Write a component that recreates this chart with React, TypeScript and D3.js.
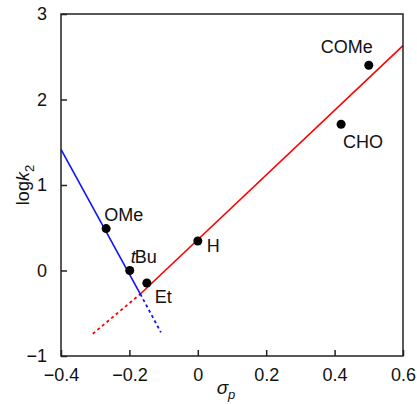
import React, { useEffect, useRef } from "react";
import * as d3 from "d3";

// substituent points (sigma_p, log k2)
const labels = ["OMe", "tBu", "Et", "H", "CHO", "COMe"];
const sigma = [-0.268, -0.199, -0.149, 0.0, 0.419, 0.5];
const logK = [0.49, 0.0, -0.146, 0.345, 1.71, 2.4];

// fitted lines
const redSolid: [number, number][] = [[-0.168, -0.275], [0.6, 2.63]];
const redDashed: [number, number][] = [[-0.307, -0.74], [-0.168, -0.275]];
const blueSolid: [number, number][] = [[-0.4, 1.418], [-0.168, -0.275]];
const blueDashed: [number, number][] = [[-0.168, -0.275], [-0.108, -0.723]];

const xTicks = [-0.4, -0.2, 0, 0.2, 0.4, 0.6];
const yTicks = [-1, 0, 1, 2, 3];

// label offsets (px) from each point
const labelDx = [-2, 1, 8, 9, 2, -48];
const labelDy = [-8, -8, 20, 11, 24, -12];

const App = () => {
  const ref = useRef<SVGSVGElement>(null);

  useEffect(() => {
    const w = 417;
    const h = 404;
    const left = 61;
    const right = 403;
    const top = 14;
    const bottom = 356;
    const font = "'Liberation Sans', Arial, Helvetica, sans-serif";

    const svg = d3.select(ref.current);
    svg.selectAll("*").remove();
    svg.attr("width", w).attr("height", h);

    const xScale = d3.scaleLinear().domain([-0.4, 0.6]).range([left, right]);
    const yScale = d3.scaleLinear().domain([-1, 3]).range([bottom, top]);

    const line = d3
      .line<[number, number]>()
      .x((d) => xScale(d[0]))
      .y((d) => yScale(d[1]));

    // lines
    svg.append("path").attr("d", line(redSolid)).attr("stroke", "#ff0000").attr("stroke-width", 1.6).attr("fill", "none");
    svg.append("path").attr("d", line(redDashed)).attr("stroke", "#ff0000").attr("stroke-width", 1.8).attr("stroke-dasharray", "3,3").attr("fill", "none");
    svg.append("path").attr("d", line(blueSolid)).attr("stroke", "#0a14ff").attr("stroke-width", 1.6).attr("fill", "none");
    svg.append("path").attr("d", line(blueDashed)).attr("stroke", "#0a14ff").attr("stroke-width", 1.8).attr("stroke-dasharray", "3,3").attr("fill", "none");

    // points
    svg
      .append("g")
      .selectAll("circle")
      .data(sigma)
      .join("circle")
      .attr("cx", (d) => xScale(d))
      .attr("cy", (d, i) => yScale(logK[i]))
      .attr("r", 4.5)
      .attr("fill", "#000");

    // point labels
    const lab = svg
      .append("g")
      .selectAll("text")
      .data(labels)
      .join("text")
      .attr("x", (d, i) => xScale(sigma[i]) + labelDx[i])
      .attr("y", (d, i) => yScale(logK[i]) + labelDy[i])
      .attr("font-family", font)
      .attr("font-size", 18)
      .attr("fill", "#111");
    lab.each(function (d) {
      const t = d3.select(this);
      if (d === "tBu") {
        t.append("tspan").attr("font-style", "italic").text("t");
        t.append("tspan").attr("dx", -1).text("Bu");
      } else {
        t.text(d);
      }
    });

    // frame
    const frame = svg.append("g").attr("stroke", "#222").attr("stroke-width", 1.5).attr("fill", "none");
    frame.append("rect").attr("x", left).attr("y", top).attr("width", right - left).attr("height", bottom - top);

    // x axis
    const xAxis = d3
      .axisBottom(xScale)
      .tickValues(xTicks)
      .tickSizeInner(-6)
      .tickSizeOuter(0)
      .tickPadding(12)
      .tickFormat((d) => {
        const v = +d;
        return v === 0 ? "0" : d3.format(".1f")(v).replace("-", "\u2212");
      });
    const gx = svg.append("g").attr("transform", `translate(0,${bottom})`).call(xAxis);
    gx.select(".domain").remove();
    gx.selectAll("line").attr("stroke", "#222").attr("stroke-width", 1.5);
    gx.selectAll("text").attr("font-family", font).attr("font-size", 18).attr("fill", "#111");

    // y axis
    const yAxis = d3
      .axisLeft(yScale)
      .tickValues(yTicks)
      .tickSizeInner(-6)
      .tickSizeOuter(0)
      .tickPadding(14)
      .tickFormat((d) => String(d).replace("-", "\u2212"));
    const gy = svg.append("g").attr("transform", `translate(${left},0)`).call(yAxis);
    gy.select(".domain").remove();
    gy.selectAll("line").attr("stroke", "#222").attr("stroke-width", 1.5);
    gy.selectAll("text").attr("font-family", font).attr("font-size", 18).attr("fill", "#111");

    // axis titles
    const xt = svg
      .append("text")
      .attr("x", 226)
      .attr("y", 394)
      .attr("text-anchor", "middle")
      .attr("font-family", font)
      .attr("font-size", 19)
      .attr("fill", "#111");
    xt.append("tspan").attr("font-style", "italic").text("σ");
    xt.append("tspan").attr("font-style", "italic").attr("font-size", 13).attr("dy", 5).text("p");

    const yt = svg
      .append("text")
      .attr("transform", `translate(29,${(top + bottom) / 2}) rotate(-90)`)
      .attr("text-anchor", "middle")
      .attr("font-family", font)
      .attr("font-size", 18)
      .attr("fill", "#111");
    yt.append("tspan").text("log");
    yt.append("tspan").attr("font-style", "italic").text("k");
    yt.append("tspan").attr("font-size", 13).attr("dy", 5).text("2");
  }, []);

  return <svg ref={ref} style={{ position: "absolute", left: 0, top: 0 }} />;
};

export default App;
